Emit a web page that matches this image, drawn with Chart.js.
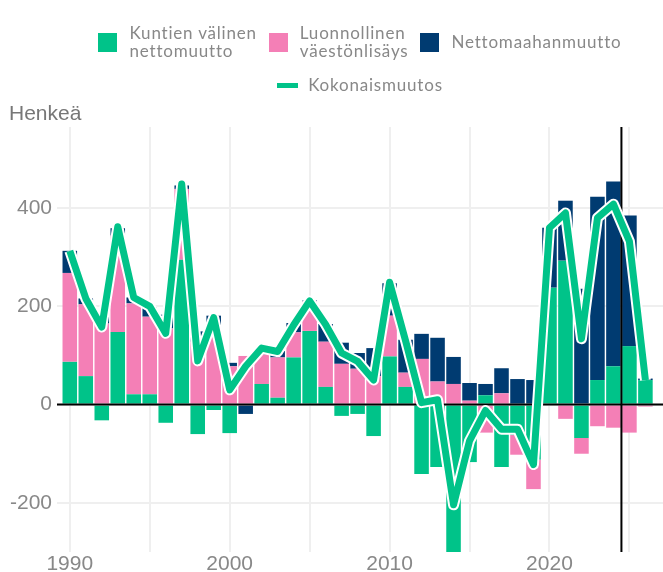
<!DOCTYPE html>
<html>
<head>
<meta charset="utf-8">
<script src="https://cdn.jsdelivr.net/npm/chart.js@4/dist/chart.umd.min.js"></script>
<style>
  body { margin: 0; background: #fff; }
  #wrap { position: relative; width: 663px; height: 572px; }
  canvas { position: absolute; left: 0; top: 0; }
  #legend { position: absolute; left: 57px; width: 606px; top: 24px; font-family: Lato, sans-serif; font-size: 17px; letter-spacing: 0.8px; color: #888; }
  .row { display: flex; justify-content: center; align-items: center; }
  .row + .row { margin-top: 16px; }
  .item { display: flex; align-items: center; margin: 0 6px; }
  .box { width: 19px; height: 19px; margin-right: 12px; flex: none; }
  .ln { width: 21px; height: 5px; margin-right: 10px; flex: none; }
  .lbl { line-height: 18px; }
  #unit { position: absolute; left: 9px; top: 102px; font-family: "Liberation Sans", Arial, sans-serif; font-size: 21px; line-height: 21px; color: #777; }
</style>
</head>
<body>
<div id="wrap">
  <canvas id="chart" width="663" height="572"></canvas>
  <div id="legend"></div>
  <div id="unit">Henkeä</div>
</div>
<script>
const years = [1990, 1991, 1992, 1993, 1994, 1995, 1996, 1997, 1998, 1999,
               2000, 2001, 2002, 2003, 2004, 2005, 2006, 2007, 2008, 2009,
               2010, 2011, 2012, 2013, 2014, 2015, 2016, 2017, 2018, 2019,
               2020, 2021, 2022, 2023, 2024, 2025, 2026];

const kuntienValinen = [87, 58, -32, 148, 21, 21, -37, 295, -60, -11,
                        -58, 0, 42, 14, 96, 150, 36, -23, -19, -64,
                        98, 36, -141, -127, -301, -117, 19, -127, -62, -112,
                        238, 293, -68, 50, 78, 119, 50];
const luonnollinen = [181, 146, 165, 196, 185, 158, 155, 144, 128, 142,
                      78, 99, 60, 82, 51, 60, 92, 83, 73, 58,
                      83, 29, 93, 47, 42, 8, -57, 23, -40, -60,
                      0, -29, -32, -44, -47, -57, -4];
const nettomaahanmuutto = [45, 12, 22, 15, 12, 19, 28, 7, 21, 39,
                           7, -19, 8, 13, 19, 2, 36, 43, 32, 57,
                           66, 67, 51, 89, 55, 36, 23, 51, 52, 50,
                           122, 122, 236, 373, 376, 266, 3];
const kokonaismuutos = [313, 216, 158, 362, 218, 200, 145, 449, 89, 177,
                        30, 78, 115, 108, 162, 211, 163, 105, 88, 50,
                        249, 130, 4, 10, -204, -74, -12, -50, -50, -122,
                        360, 390, 134, 380, 408, 332, 50];

const yTicks = [-200, 0, 200, 400];
const xGrid = [1990, 1995, 2000, 2005, 2010, 2015, 2020, 2025];
const xLabels = [1990, 2000, 2010, 2020];
const forecastStart = 2024.5;

const GREEN = '#00c389';
const PINK = '#f47fb6';
const BLUE = '#003b71';

const pts = arr => years.map((x, i) => ({ x: x, y: arr[i] }));

// legend as html, labels can wrap on two lines
const legendItems = [
  { box: GREEN, text: 'Kuntien välinen<br>nettomuutto' },
  { box: PINK, text: 'Luonnollinen<br>väestönlisäys' },
  { box: BLUE, text: 'Nettomaahanmuutto' }
];
const legend = document.getElementById('legend');
let row = '<div class="row">';
legendItems.forEach(it => {
  row += '<div class="item"><div class="box" style="background:' + it.box + '"></div><div class="lbl">' + it.text + '</div></div>';
});
row += '</div><div class="row"><div class="item"><div class="ln" style="background:' + GREEN + '"></div><div class="lbl">Kokonaismuutos</div></div></div>';
legend.innerHTML = row;

const refLines = {
  id: 'refLines',
  afterDatasetDraw(chart, args) {
    if (args.index !== 2) return;
    const { ctx, chartArea: a, scales: { x, y } } = chart;
    ctx.save();
    ctx.strokeStyle = '#000';
    ctx.lineWidth = 2;
    ctx.beginPath();
    const y0 = y.getPixelForValue(0);
    ctx.moveTo(a.left, y0);
    ctx.lineTo(a.right, y0);
    const xf = x.getPixelForValue(forecastStart);
    ctx.moveTo(xf, a.top);
    ctx.lineTo(xf, a.bottom);
    ctx.stroke();
    ctx.restore();
  }
};

const tickFont = { family: 'Liberation Sans', size: 21 };

new Chart(document.getElementById('chart').getContext('2d'), {
  type: 'bar',
  data: {
    datasets: [
      { type: 'line', label: 'Kokonaismuutos', data: pts(kokonaismuutos), borderColor: GREEN, borderWidth: 7,
        borderJoinStyle: 'round', pointRadius: 0, tension: 0, order: 0, stack: 'l1' },
      { type: 'line', label: 'outline', data: pts(kokonaismuutos), borderColor: '#fff', borderWidth: 11,
        borderJoinStyle: 'round', pointRadius: 0, tension: 0, order: 1, stack: 'l2' },
      { label: 'Kuntien välinen nettomuutto', data: pts(kuntienValinen), backgroundColor: GREEN, order: 2, stack: 'b' },
      { label: 'Luonnollinen väestönlisäys', data: pts(luonnollinen), backgroundColor: PINK, order: 2, stack: 'b' },
      { label: 'Nettomaahanmuutto', data: pts(nettomaahanmuutto), backgroundColor: BLUE, order: 2, stack: 'b' }
    ]
  },
  options: {
    responsive: false,
    animation: false,
    layout: { padding: { top: 127, left: 0, right: 0, bottom: 0 } },
    plugins: { legend: { display: false }, tooltip: { enabled: false } },
    datasets: { bar: { barPercentage: 0.91, categoryPercentage: 1 } },
    scales: {
      x: {
        type: 'linear', min: 1989.2, max: 2027.1, stacked: true, offset: false,
        afterBuildTicks: s => { s.ticks = xGrid.map(v => ({ value: v })); },
        afterFit: s => { s.height = 20; },
        grid: { color: '#efefef', lineWidth: 2, drawTicks: false, offset: false },
        border: { display: false },
        ticks: {
          autoSkip: false, maxRotation: 0, padding: 0, color: '#888', font: tickFont,
          callback: v => xLabels.includes(v) ? String(v) : ''
        }
      },
      y: {
        min: -300, max: 565, stacked: true,
        afterBuildTicks: s => { s.ticks = yTicks.map(v => ({ value: v })); },
        afterFit: s => { s.width = 57; },
        grid: { color: '#efefef', lineWidth: 2, drawTicks: false },
        border: { display: false },
        ticks: { padding: 5, color: '#888', font: tickFont }
      }
    }
  },
  plugins: [refLines]
});
</script>
</body>
</html>
